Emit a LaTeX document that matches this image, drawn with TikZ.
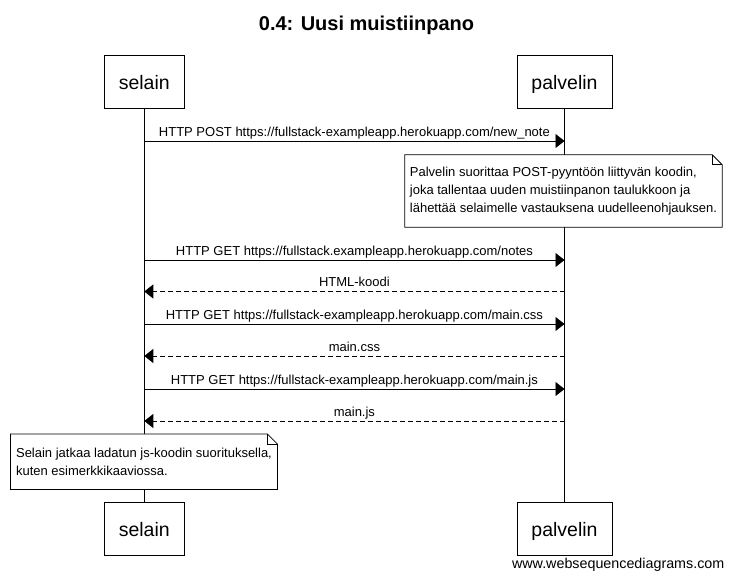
\documentclass[tikz,border=0pt]{standalone}
\usepackage{fontspec}
\setmainfont{Liberation Sans}
\usetikzlibrary{arrows.meta}
\tikzset{
  actor/.style={draw, line width=0.8pt, fill=white, minimum height=53pt, inner sep=0pt,
    font=\fontsize{19.5}{23}\selectfont, text depth=0pt, text height=16pt},
  lifeline/.style={line width=0.8pt},
  msg/.style={line width=0.8pt, -{Triangle[length=9pt,width=14pt]}},
  reply/.style={msg, dash pattern=on 5pt off 3pt},
  msglabel/.style={anchor=base, inner sep=0pt, font=\fontsize{13}{15}\selectfont},
  notebox/.style={fill=white, inner xsep=5pt, inner ysep=0pt, align=left,
    font=\fontsize{13}{18}\selectfont},
  noteline/.style={line width=0.8pt},
}
\begin{document}
\begin{tikzpicture}[x=1pt,y=-1pt]
\useasboundingbox (0,0) rectangle (732,580);
% title
\node[font=\fontsize{20}{24}\selectfont\bfseries, anchor=base] (title) at (366.5,31) {0.4: Uusi muistiinpano};
% participants
\node[actor, minimum width=80pt] (selTop) at (144.3,81.5) {selain};
\node[actor, minimum width=95pt] (palTop) at (564.5,81.5) {palvelin};
\node[actor, minimum width=80pt] (selBot) at (144.3,528.5) {selain};
\node[actor, minimum width=95pt] (palBot) at (564.5,528.5) {palvelin};
% lifelines
\draw[lifeline] (selTop.south) -- (selBot.north);
\draw[lifeline] (palTop.south) -- (palBot.north);
% message anchor points
\coordinate (s1) at (144.3,141);  \coordinate (p1) at (564.5,141);
\coordinate (s2) at (144.3,260);  \coordinate (p2) at (564.5,260);
\coordinate (s3) at (144.3,291.5);  \coordinate (p3) at (564.5,291.5);
\coordinate (s4) at (144.3,324);  \coordinate (p4) at (564.5,324);
\coordinate (s5) at (144.3,356);  \coordinate (p5) at (564.5,356);
\coordinate (s6) at (144.3,389);  \coordinate (p6) at (564.5,389);
\coordinate (s7) at (144.3,421);  \coordinate (p7) at (564.5,421);
% messages
\draw[msg] (s1) -- (p1) node[msglabel, pos=0.5, yshift=4.5pt] (l1) {HTTP POST https://fullstack-exampleapp.herokuapp.com/new\_note};
\draw[msg] (s2) -- (p2) node[msglabel, pos=0.5, yshift=4.5pt] (l2) {HTTP GET https://fullstack.exampleapp.herokuapp.com/notes};
\draw[reply] (p3) -- (s3) node[msglabel, pos=0.5, yshift=4.5pt] (l3) {HTML-koodi};
\draw[msg] (s4) -- (p4) node[msglabel, pos=0.5, yshift=4.5pt] (l4) {HTTP GET https://fullstack-exampleapp.herokuapp.com/main.css};
\draw[reply] (p5) -- (s5) node[msglabel, pos=0.5, yshift=4.5pt] (l5) {main.css};
\draw[msg] (s6) -- (p6) node[msglabel, pos=0.5, yshift=4.5pt] (l6) {HTTP GET https://fullstack-exampleapp.herokuapp.com/main.js};
\draw[reply] (p7) -- (s7) node[msglabel, pos=0.5, yshift=4.5pt] (l7) {main.js};
% note 1
\node[notebox, minimum width=317pt, minimum height=72pt] (n1) at (563.5,191)
  {Palvelin suorittaa POST-pyyntöön liittyvän koodin,\\joka tallentaa uuden muistiinpanon taulukkoon ja\\lähettää selaimelle vastauksena uudelleenohjauksen.};
\draw[noteline] (n1.north west) -- ([xshift=-10pt]n1.north east) -- ([yshift=-10pt]n1.north east) -- (n1.south east) -- (n1.south west) -- cycle;
\draw[noteline] ([xshift=-10pt]n1.north east) -- ([xshift=-10pt,yshift=-10pt]n1.north east) -- ([yshift=-10pt]n1.north east);
% note 2
\node[notebox, minimum width=266.6pt, minimum height=55pt] (n2) at (144,461.8)
  {Selain jatkaa ladatun js-koodin suorituksella,\\kuten esimerkkikaaviossa.};
\draw[noteline] (n2.north west) -- ([xshift=-10pt]n2.north east) -- ([yshift=-10pt]n2.north east) -- (n2.south east) -- (n2.south west) -- cycle;
\draw[noteline] ([xshift=-10pt]n2.north east) -- ([xshift=-10pt,yshift=-10pt]n2.north east) -- ([yshift=-10pt]n2.north east);
% watermark
\node[anchor=east, inner sep=0pt, font=\fontsize{14.3}{16}\selectfont] (wm) at (724.5,565) {www.websequencediagrams.com};
\end{tikzpicture}
\end{document}
